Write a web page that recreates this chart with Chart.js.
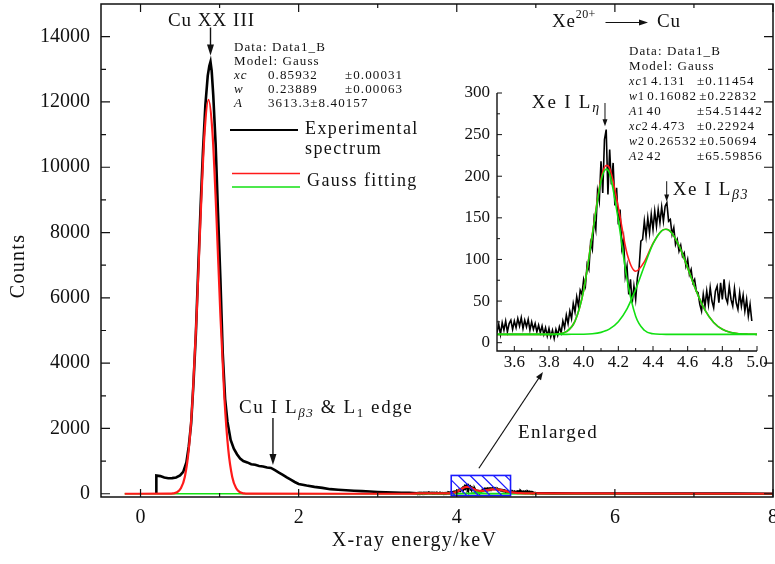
<!DOCTYPE html>
<html>
<head>
<meta charset="utf-8">
<script src="https://cdn.jsdelivr.net/npm/chart.js@4.4.1/dist/chart.umd.min.js"></script>
<style>
  html, body { margin: 0; padding: 0; background: #fff; }
  #wrap { position: relative; width: 775px; height: 564px; }
  #mainChart { position: absolute; left: 0; top: 0; }
  #insetChart { position: absolute; left: 440px; top: 80px; }
</style>
</head>
<body>
<div id="wrap">
  <canvas id="mainChart" width="775" height="564"></canvas>
  <canvas id="insetChart" width="330" height="300"></canvas>
</div>
<script>
// Measured spectrum, 0.2 - 3.4 keV
const specX = [0.2, 0.2, 0.25, 0.3, 0.35, 0.4, 0.45, 0.5, 0.54, 0.58, 0.61, 0.64, 0.67,
  0.7, 0.73, 0.76, 0.79, 0.82, 0.85, 0.87, 0.885, 0.9, 0.92, 0.95, 0.98,
  1.01, 1.04, 1.07, 1.1, 1.14, 1.18, 1.22, 1.26, 1.3,
  1.35, 1.4, 1.45, 1.5, 1.55, 1.6, 1.65, 1.7, 1.75, 1.8, 1.85, 1.9, 1.95, 2.0,
  2.1, 2.2, 2.3, 2.4, 2.5, 2.6, 2.7, 2.8, 2.9, 3.0, 3.1, 3.2, 3.3, 3.4];
const specY = [0, 560, 540, 495, 475, 478, 500, 560, 670, 960, 1450, 2150, 3400,
  4900, 6900, 8800, 10500, 11900, 12800, 13100, 13230, 12950, 12200, 10700, 8600,
  6600, 4300, 2900, 2200, 1650, 1380, 1210, 1080, 1000,
  960, 905, 885, 850, 835, 805, 790, 720, 650, 580, 500, 430, 360, 300,
  250, 210, 180, 140, 120, 105, 92, 80, 68, 55, 45, 38, 32, 28];

// Enlarged window 3.50 - 4.97 keV, one value per 0.01 keV channel
const zoomStart = 3.5;
const zoomStep = 0.01;
const zoomCounts = [
  12, 22, 10, 24, 15, 26, 13, 23, 27, 16,
  26, 18, 29, 20, 30, 17, 27, 19, 28, 15,
  25, 16, 23, 13, 21, 12, 20, 10, 18, 8,
  17, 7, 15, 5, 16, 9, 19, 12, 26, 18,
  33, 23, 38, 29, 47, 37, 55, 44, 63, 58,
  76, 68, 94, 88, 120, 112, 148, 136, 182, 170,
  218, 180, 244, 256, 178, 232, 190, 216, 165, 186,
  142, 160, 114, 126, 80, 92, 58, 76, 48, 68,
  52, 78, 90, 122, 124, 146, 128, 150, 132, 154,
  136, 158, 140, 160, 144, 163, 146, 164, 168, 146,
  148, 130, 138, 118, 124, 110, 117, 104, 108, 92,
  100, 82, 88, 72, 76, 62, 60, 46, 38, 58,
  44, 62, 46, 66, 50, 42, 62, 68, 48, 72,
  52, 76, 54, 48, 68, 52, 44, 65, 48, 40,
  60, 44, 57, 38, 52, 32, 46, 26];

// Spectrum above 5 keV
const tailX = [5.0, 5.2, 5.5, 6.0, 6.5, 7.0, 7.5, 8.0];
const tailY = [20, 12, 8, 5, 3, 2, 2, 1];

// Gauss fit of the Cu peak
const cuFitX = [-0.2, 0.36, 0.41, 0.46, 0.51, 0.56, 0.61, 0.66, 0.71, 0.76, 0.81, 0.86,
  0.91, 0.96, 1.01, 1.06, 1.11, 1.16, 1.21, 1.26, 1.31, 1.36, 3.4];
const cuFitY = [0, 2, 10, 44, 165, 515, 1349, 2970, 5485, 8501, 11056, 12068,
  11056, 8501, 5485, 2970, 1349, 515, 165, 44, 10, 2, 0];

// Two-Gauss fit of the Xe lines
const fitX = [3.5, 3.55, 3.6, 3.65, 3.7, 3.75, 3.8, 3.85, 3.9, 3.95, 4.0, 4.05, 4.1, 4.13, 4.15,
  4.2, 4.25, 4.3, 4.35, 4.4, 4.45, 4.475, 4.5, 4.55, 4.6, 4.65, 4.7, 4.75, 4.8, 4.85, 4.9, 4.95, 5.0];
const fitGreen1 = [10, 10, 10, 10, 10, 10, 10, 10.4, 13.2, 25.8, 62.7, 129.5, 194.3, 208.5, 203.0,
  147.4, 76.4, 31.8, 14.9, 10.7, 10.1, 10, 10, 10, 10, 10, 10, 10, 10, 10, 10, 10, 10];
const fitGreen2 = [10, 10, 10, 10, 10, 10, 10, 10, 10, 10.1, 10.2, 10.8, 12.4, 14.5, 16.5,
  25.2, 40.7, 64.0, 92.2, 118.6, 134.4, 136.3, 133.7, 116.7, 89.9, 61.9, 39.2, 24.3, 16.1, 12.2, 10.7, 10.2, 10];
const fitRed = [10, 10, 10, 10, 10, 10, 10, 10.4, 13.2, 25.9, 62.9, 130.3, 196.7, 213.0, 209.5,
  162.6, 107.1, 85.8, 97.1, 119.3, 134.5, 136.3, 133.7, 116.7, 89.9, 61.9, 39.2, 24.3, 16.1, 12.2, 10.7, 10.2, 10];

// Tick values
const mainXTicks = [0, 2, 4, 6, 8];
const mainYTicks = [0, 2000, 4000, 6000, 8000, 10000, 12000, 14000];
const insetXTicks = [3.6, 3.8, 4.0, 4.2, 4.4, 4.6, 4.8, 5.0];
const insetYTicks = [0, 50, 100, 150, 200, 250, 300];

const SERIF = '"Liberation Serif", "Times New Roman", serif';
const INK = '#111';
const RED = '#ff1a1a';
const GREEN = '#12e012';
const BLUE = '#1a1aff';

function pts(xs, ys) {
  return xs.map((v, i) => ({ x: v, y: ys[i] }));
}

const zoomPts = zoomCounts.map((c, i) => ({ x: +(zoomStart + i * zoomStep).toFixed(2), y: c }));
const spectrum = pts(specX, specY).concat(zoomPts, pts(tailX, tailY));

// --- drawing helpers -------------------------------------------------------
function fontOf(size, italic) {
  return (italic ? 'italic ' : '') + size + 'px ' + SERIF;
}

// parts: [text, size, italic, dy]
function textWidth(ctx, parts, spacing) {
  let w = 0;
  ctx.save();
  ctx.letterSpacing = (spacing || 0) + 'px';
  parts.forEach(p => { ctx.font = fontOf(p[1], p[2]); w += ctx.measureText(p[0]).width; });
  ctx.restore();
  return w;
}

function write(ctx, x, y, parts, spacing) {
  ctx.save();
  ctx.letterSpacing = (spacing || 0) + 'px';
  ctx.fillStyle = INK;
  ctx.textBaseline = 'alphabetic';
  ctx.textAlign = 'left';
  let cx = x;
  parts.forEach(p => {
    ctx.font = fontOf(p[1], p[2]);
    ctx.fillText(p[0], cx, y + (p[3] || 0));
    cx += ctx.measureText(p[0]).width;
  });
  ctx.restore();
  return cx - x;
}

function arrow(ctx, x0, y0, x1, y1, head, half, width) {
  const a = Math.atan2(y1 - y0, x1 - x0);
  ctx.save();
  ctx.strokeStyle = INK;
  ctx.fillStyle = INK;
  ctx.lineWidth = width;
  ctx.beginPath();
  ctx.moveTo(x0, y0);
  ctx.lineTo(x1 - Math.cos(a) * head * 0.8, y1 - Math.sin(a) * head * 0.8);
  ctx.stroke();
  ctx.beginPath();
  ctx.moveTo(x1, y1);
  ctx.lineTo(x1 - Math.cos(a) * head - Math.sin(a) * half, y1 - Math.sin(a) * head + Math.cos(a) * half);
  ctx.lineTo(x1 - Math.cos(a) * head + Math.sin(a) * half, y1 - Math.sin(a) * head - Math.cos(a) * half);
  ctx.closePath();
  ctx.fill();
  ctx.restore();
}

function midpoints(vals) {
  const out = [];
  for (let i = 1; i < vals.length; i++) out.push((vals[i - 1] + vals[i]) / 2);
  return out;
}

// inward tick marks on one side of the plot box
function ticksOn(ctx, scale, vals, len, side, area) {
  ctx.beginPath();
  vals.forEach(v => {
    const p = scale.getPixelForValue(v);
    if (side === 'bottom') { ctx.moveTo(p, area.bottom); ctx.lineTo(p, area.bottom - len); }
    if (side === 'top') { ctx.moveTo(p, area.top); ctx.lineTo(p, area.top + len); }
    if (side === 'left') { ctx.moveTo(area.left, p); ctx.lineTo(area.left + len, p); }
    if (side === 'right') { ctx.moveTo(area.right, p); ctx.lineTo(area.right - len, p); }
  });
  ctx.stroke();
}

// fit report: rows of cells, each cell a list of text parts
function report(ctx, rows, cols, top, step) {
  rows.forEach((r, i) => {
    let minX = 0;
    r.forEach((cell, j) => {
      const x0 = Math.max(cols[j], minX);
      minX = x0 + write(ctx, x0, top + i * step, cell, 1.1) + 2;
    });
  });
}

// --- main plot decorations --------------------------------------------------
const mainDecor = {
  id: 'mainDecor',
  afterDatasetsDraw(chart) {
    const { ctx, scales: { x, y } } = chart;
    // hatched box around the enlarged energy window
    const bx0 = x.getPixelForValue(3.93), bx1 = x.getPixelForValue(4.68);
    const by0 = y.getPixelForValue(560), by1 = y.getPixelForValue(-60);
    const h = by1 - by0;
    ctx.save();
    ctx.beginPath();
    ctx.rect(bx0, by0, bx1 - bx0, h);
    ctx.clip();
    ctx.strokeStyle = BLUE;
    ctx.lineWidth = 1.2;
    ctx.beginPath();
    for (let s = bx0 - h + 4; s < bx1; s += 11.7) {
      ctx.moveTo(s, by0);
      ctx.lineTo(s + h, by1);
    }
    ctx.stroke();
    ctx.restore();
    ctx.save();
    ctx.strokeStyle = BLUE;
    ctx.lineWidth = 1.6;
    ctx.strokeRect(bx0, by0, bx1 - bx0, h);
    ctx.restore();
  },
  afterDraw(chart) {
    const { ctx, chartArea: area, scales: { x, y } } = chart;
    ctx.save();
    ctx.strokeStyle = INK;
    ctx.lineWidth = 1.5;
    ctx.strokeRect(area.left, area.top, area.width, area.height);
    ctx.lineWidth = 1.2;
    ticksOn(ctx, x, mainXTicks, 8, 'bottom', area);
    ticksOn(ctx, x, mainXTicks, 8, 'top', area);
    ticksOn(ctx, x, midpoints(mainXTicks), 4, 'bottom', area);
    ticksOn(ctx, x, midpoints(mainXTicks), 4, 'top', area);
    ticksOn(ctx, y, mainYTicks, 9, 'left', area);
    ticksOn(ctx, y, mainYTicks, 9, 'right', area);
    ticksOn(ctx, y, midpoints(mainYTicks), 5, 'left', area);
    ticksOn(ctx, y, midpoints(mainYTicks), 5, 'right', area);
    ctx.restore();

    // axis titles
    const xt = [['X-ray energy/keV', 20]];
    write(ctx, 414.5 - textWidth(ctx, xt, 1.3) / 2, 546, xt, 1.3);
    ctx.save();
    ctx.translate(24, 266);
    ctx.rotate(-Math.PI / 2);
    const yt = [['Counts', 20]];
    write(ctx, -textWidth(ctx, yt, 1.3) / 2, 0, yt, 1.3);
    ctx.restore();

    // Cu peak label
    const px = x.getPixelForValue(0.885);
    const t1 = [['Cu XX III', 19]];
    write(ctx, px + 1 - textWidth(ctx, t1, 1) / 2, 26, t1, 1);
    arrow(ctx, px, y.getPixelForValue(14280), px, y.getPixelForValue(13420), 11, 3.5, 1.4);

    // L-beta3 shoulder
    write(ctx, 239, 413, [['Cu I L', 19], ['\u03b23', 13, true, 4], [' & L', 19], ['1', 13, false, 4], [' edge', 19]], 1.6);
    const sx = x.getPixelForValue(1.675);
    arrow(ctx, sx, y.getPixelForValue(2320), sx, y.getPixelForValue(880), 11, 3.5, 1.4);

    // enlarged window pointer
    write(ctx, 518, 438, [['Enlarged', 19]], 1.5);
    arrow(ctx, x.getPixelForValue(4.28), y.getPixelForValue(780),
      x.getPixelForValue(5.09), y.getPixelForValue(3730), 8, 3, 1.2);

    // fit report for the Cu peak
    report(ctx, [
      [[['Data: Data1_B', 13]]],
      [[['Model: Gauss', 13]]],
      [[['xc', 13, true]], [['0.85932', 13]], [['\u00b10.00031', 13]]],
      [[['w', 13, true]], [['0.23889', 13]], [['\u00b10.00063', 13]]],
      [[['A', 13, true]], [['3613.3\u00b18.40157', 13]]]
    ], [234, 268, 345], 51, 14.1);

    // legend
    ctx.save();
    ctx.lineWidth = 2;
    ctx.strokeStyle = '#000';
    ctx.beginPath(); ctx.moveTo(230, 130); ctx.lineTo(298, 130); ctx.stroke();
    ctx.lineWidth = 1.6;
    ctx.strokeStyle = RED;
    ctx.beginPath(); ctx.moveTo(232, 173.5); ctx.lineTo(300, 173.5); ctx.stroke();
    ctx.strokeStyle = GREEN;
    ctx.beginPath(); ctx.moveTo(232, 187); ctx.lineTo(300, 187); ctx.stroke();
    ctx.restore();
    write(ctx, 305, 134, [['Experimental', 18]], 1.4);
    write(ctx, 305, 154, [['spectrum', 18]], 1.4);
    write(ctx, 307, 186, [['Gauss fitting', 18]], 1.4);

    // projectile / target
    const w1 = write(ctx, 552, 27, [['Xe', 19]], 0.8);
    write(ctx, 552 + w1, 27, [['20+', 12, false, -9]], 0.4);
    arrow(ctx, 605.5, 22.5, 648, 22.5, 9, 3, 1.2);
    write(ctx, 657, 27, [['Cu', 19]], 0.8);

    // fit report for the Xe lines
    report(ctx, [
      [[['Data: Data1_B', 13]]],
      [[['Model: Gauss', 13]]],
      [[['xc', 12, true], ['1', 12]], [['4.131', 13]], [['\u00b10.11454', 13]]],
      [[['w', 12, true], ['1', 12]], [['0.16082', 13]], [['\u00b10.22832', 13]]],
      [[['A', 12, true], ['1', 12]], [['40', 13]], [['\u00b154.51442', 13]]],
      [[['xc', 12, true], ['2', 12]], [['4.473', 13]], [['\u00b10.22924', 13]]],
      [[['w', 12, true], ['2', 12]], [['0.26532', 13]], [['\u00b10.50694', 13]]],
      [[['A', 12, true], ['2', 12]], [['42', 13]], [['\u00b165.59856', 13]]]
    ], [629, 645, 697], 55, 15);
  }
};

const mainChart = new Chart(document.getElementById('mainChart'), {
  type: 'line',
  data: {
    datasets: [
      {
        label: 'Gauss fitting',
        data: pts(cuFitX, cuFitY).concat(pts(fitX, fitRed), [{ x: 8, y: 0 }]),
        borderColor: RED, borderWidth: 2.2, cubicInterpolationMode: 'monotone', order: 1
      },
      {
        label: 'baseline',
        data: [{ x: -0.2, y: 0 }, { x: 8, y: 0 }],
        borderColor: GREEN, borderWidth: 1.3, order: 2
      },
      {
        label: 'Xe L-eta',
        data: pts(fitX, fitGreen1),
        borderColor: GREEN, borderWidth: 1.5, cubicInterpolationMode: 'monotone', order: 2
      },
      {
        label: 'Xe L-beta3',
        data: pts(fitX, fitGreen2),
        borderColor: GREEN, borderWidth: 1.5, cubicInterpolationMode: 'monotone', order: 2
      },
      {
        label: 'Experimental spectrum',
        data: spectrum,
        borderColor: '#000', borderWidth: 2.6, order: 3
      }
    ]
  },
  options: {
    responsive: false,
    animation: false,
    events: [],
    elements: { point: { radius: 0 }, line: { tension: 0 } },
    plugins: { legend: { display: false }, tooltip: { enabled: false } },
    layout: { padding: { left: 0, top: 4, right: 2, bottom: 0 } },
    scales: {
      x: {
        type: 'linear', min: -0.5, max: 8,
        grid: { display: false, drawTicks: false },
        border: { display: false },
        ticks: { font: { family: SERIF, size: 20 }, color: INK, padding: 9, callback: v => String(v) },
        afterBuildTicks: s => { s.ticks = mainXTicks.map(v => ({ value: v })); },
        afterFit: s => { s.height = 67; s.paddingLeft = 0; s.paddingRight = 0; }
      },
      y: {
        type: 'linear', min: -100, max: 15000,
        grid: { display: false, drawTicks: false },
        border: { display: false },
        ticks: { font: { family: SERIF, size: 20 }, color: INK, padding: 11, callback: v => String(v) },
        afterBuildTicks: s => { s.ticks = mainYTicks.map(v => ({ value: v })); },
        afterFit: s => { s.width = 101; s.paddingTop = 0; s.paddingBottom = 0; }
      }
    }
  },
  plugins: [mainDecor]
});

// --- inset ----------------------------------------------------------------
const insetDecor = {
  id: 'insetDecor',
  afterDraw(chart) {
    const { ctx, chartArea: area, scales: { x, y } } = chart;
    ctx.save();
    ctx.strokeStyle = INK;
    ctx.lineWidth = 1.4;
    ctx.beginPath();
    ctx.moveTo(area.left, area.top);
    ctx.lineTo(area.left, area.bottom);
    ctx.lineTo(area.right, area.bottom);
    ctx.stroke();
    ctx.lineWidth = 1;
    ticksOn(ctx, x, insetXTicks, 5, 'bottom', area);
    ticksOn(ctx, x, midpoints(insetXTicks), 3, 'bottom', area);
    ticksOn(ctx, y, insetYTicks, 5, 'left', area);
    ticksOn(ctx, y, midpoints(insetYTicks), 3, 'left', area);
    ctx.restore();

    // line labels
    const ax = x.getPixelForValue(4.123);
    const eta = [['Xe I L', 19], ['\u03b7', 14, true, 4]];
    write(ctx, ax - 4 - textWidth(ctx, eta, 1.8), y.getPixelForValue(281.5), eta, 1.8);
    arrow(ctx, ax, y.getPixelForValue(288), ax, y.getPixelForValue(260), 7, 2.5, 1);

    const bx = x.getPixelForValue(4.479);
    write(ctx, bx + 6, y.getPixelForValue(177.5), [['Xe I L', 19], ['\u03b23', 14, true, 4]], 1.6);
    arrow(ctx, bx, y.getPixelForValue(194), bx, y.getPixelForValue(169.5), 7, 2.5, 1);
  }
};

const insetChart = new Chart(document.getElementById('insetChart'), {
  type: 'line',
  data: {
    datasets: [
      { label: 'Xe L-eta', data: pts(fitX, fitGreen1), borderColor: GREEN, borderWidth: 1.6, cubicInterpolationMode: 'monotone', order: 1 },
      { label: 'Xe L-beta3', data: pts(fitX, fitGreen2), borderColor: GREEN, borderWidth: 1.6, cubicInterpolationMode: 'monotone', order: 1 },
      { label: 'Cumulative fit', data: pts(fitX, fitRed), borderColor: RED, borderWidth: 1.6, cubicInterpolationMode: 'monotone', order: 2 },
      { label: 'Experimental spectrum', data: zoomPts, borderColor: '#000', borderWidth: 1.6, order: 3 }
    ]
  },
  options: {
    responsive: false,
    animation: false,
    events: [],
    elements: { point: { radius: 0 }, line: { tension: 0 } },
    plugins: { legend: { display: false }, tooltip: { enabled: false } },
    layout: { padding: { left: 0, top: 13, right: 13, bottom: 0 } },
    scales: {
      x: {
        type: 'linear', min: 3.5, max: 5.0,
        grid: { display: false, drawTicks: false },
        border: { display: false },
        ticks: { font: { family: SERIF, size: 17 }, color: INK, padding: 1, callback: v => v.toFixed(1) },
        afterBuildTicks: s => { s.ticks = insetXTicks.map(v => ({ value: v })); },
        afterFit: s => { s.height = 29; s.paddingLeft = 0; s.paddingRight = 0; }
      },
      y: {
        type: 'linear', min: -10, max: 300,
        grid: { display: false, drawTicks: false },
        border: { display: false },
        ticks: { font: { family: SERIF, size: 17 }, color: INK, padding: 7, callback: v => String(v) },
        afterBuildTicks: s => { s.ticks = insetYTicks.map(v => ({ value: v })); },
        afterFit: s => { s.width = 57; s.paddingTop = 0; s.paddingBottom = 0; }
      }
    }
  },
  plugins: [insetDecor]
});
</script>
</body>
</html>
